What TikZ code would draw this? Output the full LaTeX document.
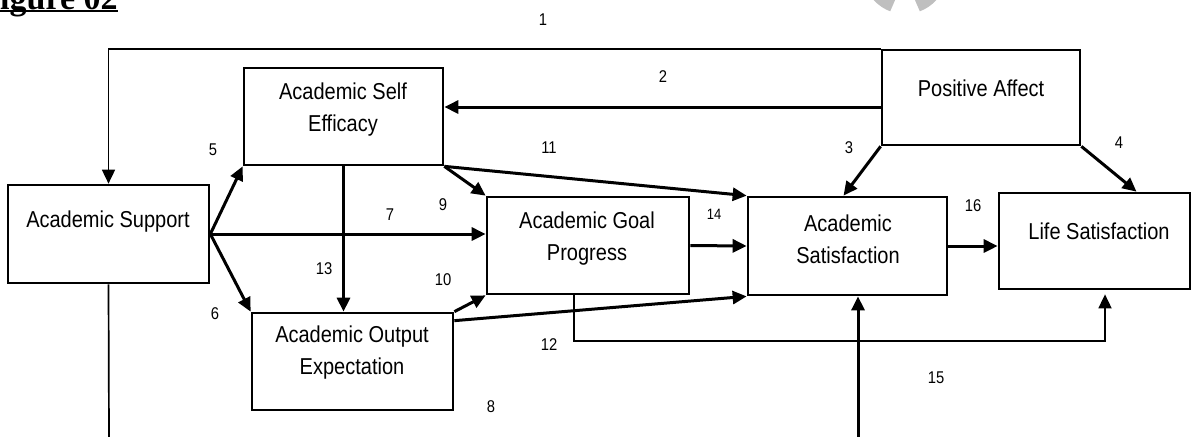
\documentclass[tikz,border=0pt]{standalone}
\usepackage{fontspec}
\setmainfont{Liberation Sans}[FakeStretch=0.87]
\newfontfamily\headfont{Liberation Serif}
\usetikzlibrary{arrows.meta,positioning}

\begin{document}
\begin{tikzpicture}[x=0.5pt, y=-0.5pt, >={Triangle[width=6.5pt,length=7pt]}, box/.style={draw, line width=1.35pt, inner sep=0pt}, boxtext/.style={align=center, inner sep=0pt, font=\fontsize{11.5}{16}\selectfont}, num/.style={inner sep=0pt, font=\fontsize{8.5}{10}\selectfont}, conn/.style={line width=1.5pt}, thinconn/.style={line width=0.85pt}]
	\clip (0, 0) rectangle (1192, 436);
	% heading and watermark, cut by the page edge
	\draw (-21, 9)node[anchor=base west, inner sep=0pt, font=\headfont\bfseries\fontsize{17}{20}\selectfont](fig){Figure 02};
	\draw[line width=1pt] ([yshift=-1pt]fig.base west) -- ([yshift=-1pt]fig.base east);
	\draw[gray!50, line width=8pt] (905, -28) ++(165:34) arc[start angle=165, end angle=110, radius=34];
	\draw[gray!50, line width=8pt] (905, -28) ++(70:34) arc[start angle=70, end angle=15, radius=34];
	% boxes
	\draw (108.5, 234.0)node[box, minimum width=100.5pt, minimum height=49pt](as){};
	\draw (343.5, 116.5)node[box, minimum width=99.5pt, minimum height=48.5pt](se){};
	\draw (352.5, 361.5)node[box, minimum width=100.5pt, minimum height=48.5pt](oe){};
	\draw (588.0, 245.5)node[box, minimum width=101pt, minimum height=48.5pt](gp){};
	\draw (847.5, 246.0)node[box, minimum width=99.5pt, minimum height=49pt](asat){};
	\draw (1094.5, 241.0)node[box, minimum width=95.5pt, minimum height=48pt](ls){};
	\draw (981.0, 97.5)node[box, minimum width=99pt, minimum height=47.5pt](pa){};
	% box texts
	\draw (108, 222)node[boxtext](as-t){Academic Support};
	\draw (343, 110)node[boxtext](se-t){Academic Self\\Efficacy};
	\draw (352, 353)node[boxtext](oe-t){Academic Output\\Expectation};
	\draw (587, 239)node[boxtext](gp-t){Academic Goal\\Progress};
	\draw (848, 239)node[boxtext](asat-t){Academic\\Satisfaction};
	\draw (1099, 231)node[boxtext](ls-t){Life Satisfaction};
	\draw (981, 88)node[boxtext](pa-t){Positive Affect};
	% free ends at the lower page edge
	\coordinate (asout) at (109, 440);
	\coordinate (asatin) at (858, 440);
	\coordinate (c15) at (1105, 341);
	% paths
	\draw[thinconn, ->] (pa.north west) -| (as.north);
	\path[conn, ->] (pa.west |- 0,107) edge (se.east |- 0,107);
	\path[conn, ->] (pa.south west) edge ([xshift=-2pt]asat.north);
	\path[conn, ->] (pa.south east) edge ([xshift=21pt]ls.north);
	\path[conn, ->] (as.east) edge (se.south west);
	\path[conn, ->] (as.east) edge (oe.north west);
	\path[conn, ->] (as.east) edge (as.east -| gp.west);
	\path[conn, ->] (se.south east) edge (gp.north west);
	\path[conn, ->] (oe.north east) edge (gp.south west);
	\path[conn, ->] (se.south east) edge (asat.north west);
	\path[conn, ->] ([yshift=-4.5pt]oe.north east) edge (asat.south west);
	\path[conn, ->] (se.south) edge (oe.north -| se.south);
	\path[conn, ->] (gp.east) edge (asat.west);
	\path[conn, ->] (asat.east) edge (asat.east -| ls.west);
	\draw[thinconn, ->, shorten >=2pt] ([xshift=-7pt]gp.south) |- (c15) -- (ls.south -| c15);
	\draw[thinconn] (as.south) -- (asout);
	\path[conn, ->] (asatin) edge (asat.south -| asatin);
	% path numbers
	\draw (543, 20)node[num](n1){1};
	\draw (663, 77)node[num](n2){2};
	\draw (849, 148)node[num](n3){3};
	\draw (1119, 143)node[num](n4){4};
	\draw (213, 150)node[num](n5){5};
	\draw (215, 314)node[num](n6){6};
	\draw (390, 215)node[num](n7){7};
	\draw (491, 407)node[num](n8){8};
	\draw (443, 205)node[num](n9){9};
	\draw (443, 280)node[num](n10){10};
	\draw (549, 148)node[num](n11){11};
	\draw (549, 345)node[num](n12){12};
	\draw (324, 269)node[num](n13){13};
	\draw (714, 214)node[num, font=\fontsize{7.5}{9}\selectfont](n14){14};
	\draw (936, 378)node[num](n15){15};
	\draw (973, 206)node[num](n16){16};
\end{tikzpicture}
\end{document}
